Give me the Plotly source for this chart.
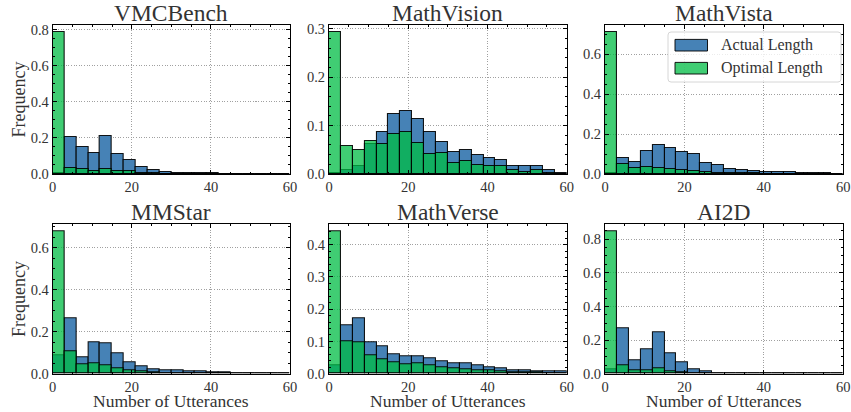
import plotly.graph_objects as go

# ---------------- data ----------------
bin_edges = list(range(0, 63, 3))  # 0,3,...,60 (20 bins)
titles = ["VMCBench", "MathVision", "MathVista", "MMStar", "MathVerse", "AI2D"]
series_names = ["Actual Length", "Optimal Length"]

vmc_actual = [0.004, 0.204, 0.148, 0.118, 0.209, 0.110, 0.077, 0.037, 0.021, 0.010,
              0.006, 0.004, 0.003, 0.003, 0.002, 0.002, 0.002, 0.001, 0.001, 0.001]
vmc_optimal = [0.787, 0.036, 0.028, 0.019, 0.028, 0.019, 0.015, 0.007, 0.003, 0.002,
               0.001, 0.001, 0.001, 0.000, 0.000, 0.000, 0.000, 0.000, 0.000, 0.000]

mvision_actual = [0.002, 0.008, 0.017, 0.061, 0.086, 0.123, 0.130, 0.114, 0.086, 0.066,
                  0.045, 0.050, 0.039, 0.034, 0.028, 0.017, 0.017, 0.016, 0.008, 0.003]
mvision_optimal = [0.293, 0.058, 0.050, 0.068, 0.062, 0.083, 0.086, 0.065, 0.041, 0.044,
                   0.022, 0.026, 0.018, 0.016, 0.016, 0.009, 0.004, 0.009, 0.002, 0.001]

mvista_actual = [0.003, 0.082, 0.060, 0.113, 0.145, 0.128, 0.108, 0.098, 0.057, 0.047,
                 0.023, 0.020, 0.015, 0.010, 0.012, 0.008, 0.007, 0.005, 0.003, 0.002]
mvista_optimal = [0.710, 0.048, 0.032, 0.033, 0.032, 0.025, 0.018, 0.013, 0.010, 0.007,
                  0.005, 0.004, 0.003, 0.002, 0.002, 0.001, 0.001, 0.001, 0.000, 0.000]

mmstar_actual = [0.090, 0.265, 0.076, 0.151, 0.146, 0.095, 0.052, 0.037, 0.022, 0.014,
                 0.016, 0.011, 0.010, 0.005, 0.005, 0.004, 0.003, 0.002, 0.002, 0.001]
mmstar_optimal = [0.678, 0.108, 0.046, 0.049, 0.041, 0.027, 0.014, 0.010, 0.006, 0.004,
                  0.003, 0.002, 0.002, 0.001, 0.001, 0.001, 0.000, 0.000, 0.000, 0.000]

mverse_actual = [0.026, 0.151, 0.171, 0.098, 0.085, 0.061, 0.055, 0.055, 0.049, 0.038,
                 0.033, 0.031, 0.025, 0.021, 0.018, 0.012, 0.011, 0.009, 0.007, 0.006]
mverse_optimal = [0.441, 0.099, 0.097, 0.058, 0.046, 0.036, 0.030, 0.031, 0.025, 0.020,
                  0.016, 0.013, 0.011, 0.010, 0.007, 0.005, 0.004, 0.003, 0.002, 0.002]

ai2d_actual = [0.026, 0.271, 0.079, 0.143, 0.246, 0.121, 0.069, 0.026, 0.013, 0.005,
               0.002, 0.001, 0.001, 0.001, 0.000, 0.000, 0.000, 0.000, 0.000, 0.000]
ai2d_optimal = [0.846, 0.048, 0.020, 0.020, 0.030, 0.014, 0.010, 0.004, 0.002, 0.001,
                0.001, 0.000, 0.000, 0.000, 0.000, 0.000, 0.000, 0.000, 0.000, 0.000]

actual_sets = [vmc_actual, mvision_actual, mvista_actual, mmstar_actual, mverse_actual, ai2d_actual]
optimal_sets = [vmc_optimal, mvision_optimal, mvista_optimal, mmstar_optimal, mverse_optimal, ai2d_optimal]
y_major = [0.2, 0.1, 0.2, 0.2, 0.1, 0.2]
y_minor = [0.05, 0.02, 0.05, 0.05, 0.02, 0.05]
x_ticks = [0, 20, 40, 60]
x_label = "Number of Utterances"
y_label = "Frequency"

# ---------------- layout helpers ----------------
W, H = 851, 412
FONT = "Liberation Serif"
BLUE = "#4682b6"
GREEN = "rgba(0,188,68,0.75)"
EDGE = "rgba(0,0,0,0.9)"
TXT = "#333333"


def px(x):
    return x / W


def py(y):
    return 1 - y / H


col_px = [(52.7, 290.0), (329.0, 566.7), (605.0, 843.3)]
row_px = [(25.0, 174.0), (224.3, 373.7)]

centers = [(bin_edges[i] + bin_edges[i + 1]) / 2 for i in range(len(bin_edges) - 1)]
widths = [bin_edges[i + 1] - bin_edges[i] for i in range(len(bin_edges) - 1)]

fig = go.Figure()
annotations = []
shapes = []

for k in range(6):
    r, c = divmod(k, 3)
    ax = "" if k == 0 else str(k + 1)
    xa, ya = "x" + ax, "y" + ax
    fig.add_trace(go.Bar(x=centers, y=actual_sets[k], width=widths, xaxis=xa, yaxis=ya,
                         marker=dict(color=BLUE, line=dict(color=EDGE, width=1.1)),
                         name=series_names[0], showlegend=False))
    fig.add_trace(go.Bar(x=centers, y=optimal_sets[k], width=widths, xaxis=xa, yaxis=ya,
                         marker=dict(color=GREEN, line=dict(color=EDGE, width=1.1)),
                         name=series_names[1], showlegend=False))
    ymax = max(max(actual_sets[k]), max(optimal_sets[k])) * 1.05
    x0, x1 = col_px[c]
    y0, y1 = row_px[r]
    common = dict(showline=True, linecolor="black", linewidth=1, mirror="allticks",
                  ticks="inside", ticklen=4, tickwidth=1, tickcolor="black", automargin=False,
                  showgrid=True, gridcolor="#a0a0a0", griddash="1px,1.6px", gridwidth=0.8,
                  zeroline=False, tickfont=dict(family=FONT, size=14.5, color=TXT))
    fig.layout["xaxis" + ax] = dict(common, domain=[px(x0), px(x1)], anchor=ya,
                                    range=[bin_edges[0], bin_edges[-1]], tickvals=x_ticks,
                                    minor=dict(ticks="inside", ticklen=2, dtick=5, tick0=0,
                                               tickcolor="black", showgrid=False))
    fig.layout["yaxis" + ax] = dict(common, domain=[py(y1), py(y0)], anchor=xa,
                                    range=[0, ymax], dtick=y_major[k], tick0=0, tickformat=".1f",
                                    minor=dict(ticks="inside", ticklen=2, dtick=y_minor[k], tick0=0,
                                               tickcolor="black", showgrid=False))
    annotations.append(dict(text=titles[k], x=px((x0 + x1) / 2), y=py(y0 - 12.5), xref="paper",
                            yref="paper", xanchor="center", yanchor="middle", showarrow=False,
                            font=dict(family=FONT, size=23.5, color=TXT)))
    if c == 0:
        annotations.append(dict(text=y_label, x=px(19), y=py((y0 + y1) / 2), xref="paper",
                                yref="paper", xanchor="center", yanchor="middle", textangle=-90,
                                showarrow=False, font=dict(family=FONT, size=18, color=TXT)))
    if r == 1:
        annotations.append(dict(text=x_label, x=px((x0 + x1) / 2), y=py(401.3), xref="paper",
                                yref="paper", xanchor="center", yanchor="middle",
                                showarrow=False, font=dict(family=FONT, size=17.5, color=TXT)))

# ---------------- legend (in MathVista panel) ----------------
lx0, lx1, ly0, ly1, rad = 668, 841, 32, 82, 3
path = (f"M {px(lx0 + rad)} {py(ly0)} L {px(lx1 - rad)} {py(ly0)} "
        f"Q {px(lx1)} {py(ly0)} {px(lx1)} {py(ly0 + rad)} L {px(lx1)} {py(ly1 - rad)} "
        f"Q {px(lx1)} {py(ly1)} {px(lx1 - rad)} {py(ly1)} L {px(lx0 + rad)} {py(ly1)} "
        f"Q {px(lx0)} {py(ly1)} {px(lx0)} {py(ly1 - rad)} L {px(lx0)} {py(ly0 + rad)} "
        f"Q {px(lx0)} {py(ly0)} {px(lx0 + rad)} {py(ly0)} Z")
shapes.append(dict(type="path", path=path, xref="paper", yref="paper",
                   fillcolor="rgba(255,255,255,0.8)", line=dict(color="#d6d6d6", width=1)))
legend_rows = [(BLUE, series_names[0], 45.2), (GREEN, series_names[1], 68.2)]
for color, label, yc in legend_rows:
    shapes.append(dict(type="rect", xref="paper", yref="paper",
                       x0=px(675), x1=px(707.5), y0=py(yc - 5.8), y1=py(yc + 5.8),
                       fillcolor=color, line=dict(color=EDGE, width=1)))
    annotations.append(dict(text=label, x=px(719), y=py(yc), xref="paper", yref="paper",
                            xanchor="left", yanchor="middle", showarrow=False,
                            font=dict(family=FONT, size=16, color=TXT)))

fig.update_layout(width=W, height=H, margin=dict(l=0, r=0, t=0, b=0),
                  paper_bgcolor="white", plot_bgcolor="white",
                  barmode="overlay", bargap=0, showlegend=False,
                  font=dict(family=FONT, color=TXT),
                  annotations=annotations, shapes=shapes)

fig.write_html("out.html", config={"displayModeBar": False},
               post_script="document.body.style.margin='0';document.body.style.padding='0';")
